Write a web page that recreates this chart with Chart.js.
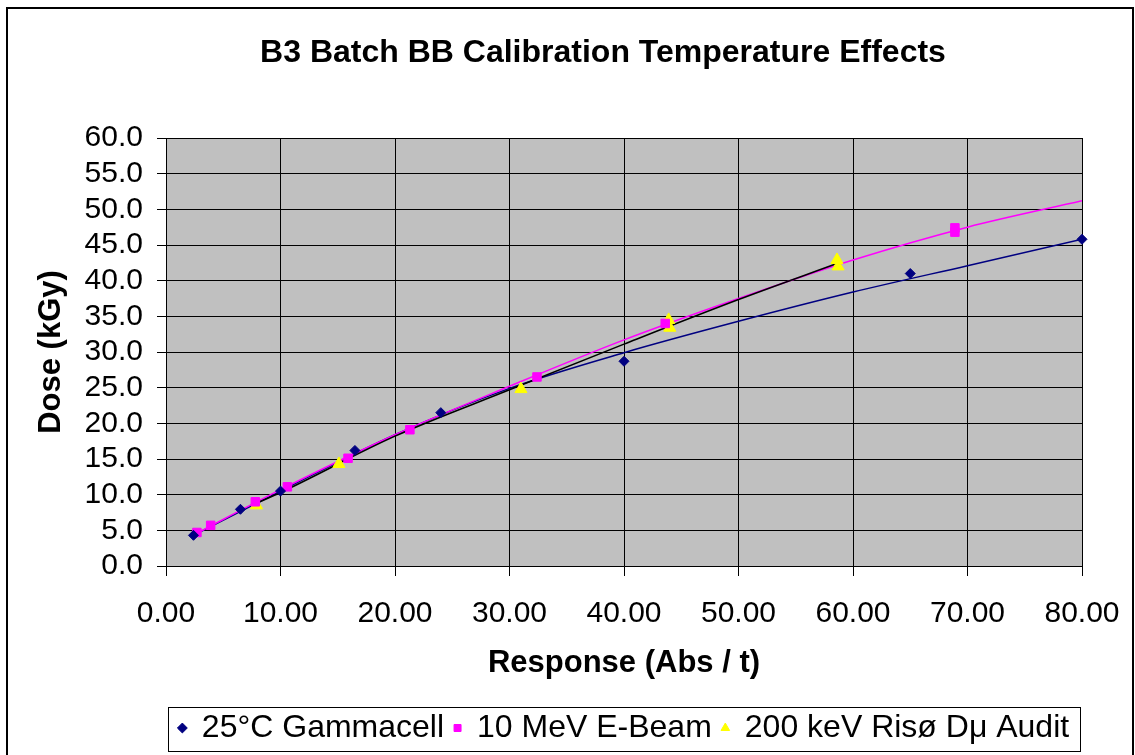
<!DOCTYPE html>
<html lang="en">
<head>
<meta charset="UTF-8">
<title>B3 Batch BB Calibration Temperature Effects</title>
<script src="https://cdn.jsdelivr.net/npm/chart.js"></script>
<style>
  html, body { margin: 0; padding: 0; background: #fff; }
</style>
</head>
<body>
<canvas id="doseChart" width="1135" height="755"></canvas>
<script>
// measured points (x = response Abs/t, y = dose kGy)
const gammaX = [2.4, 6.5, 10.0, 16.5, 24.0, 40.0, 65.0, 80.0];
const gammaY = [4.3, 7.95, 10.5, 16.2, 21.5, 28.7, 41.0, 45.8];

const beamX = [2.7, 3.9, 7.8, 10.6, 15.9, 21.3, 32.4, 43.6, 68.9, 68.9];
const beamY = [4.7, 5.7, 9.0, 11.1, 15.1, 19.1, 26.5, 34.0, 47.4, 46.8];

const risoX = [7.9, 15.1, 31.0, 43.9, 44.0, 58.6, 58.7];
const risoY = [8.5, 14.3, 24.8, 34.5, 33.4, 42.9, 42.0];

// trendlines
const gammaTrendX = [2.4, 10, 20, 30, 40, 50, 60, 70, 80];
const gammaTrendY = [4.3, 10.5, 18.4, 24.9, 29.9, 34.3, 38.4, 42.1, 45.8];

const beamTrendX = [2.6, 10, 20, 30, 40, 50, 60, 70, 80];
const beamTrendY = [4.5, 10.7, 18.4, 25.2, 31.7, 37.5, 42.9, 47.5, 51.2];

const risoTrendX = [7.9, 10, 20, 30, 40, 50, 58.6];
const risoTrendY = [8.8, 10.3, 18.2, 24.7, 31.1, 37.35, 42.4];

const labels = ['25\u00B0C Gammacell', '10 MeV E-Beam', '200 keV Ris\u00F8 D\u03BC Audit'];

const FONT = '"Liberation Sans", Arial, sans-serif';

function pts(xs, ys) {
    return xs.map((x, i) => ({ x: x, y: ys[i] }));
}

// white page, outer frame, grey plot area, title, legend box
const backdrop = {
    id: 'backdrop',
    beforeDraw(chart) {
        const ctx = chart.ctx;
        const a = chart.chartArea;
        ctx.save();
        ctx.fillStyle = '#fff';
        ctx.fillRect(0, 0, chart.width, chart.height);
        ctx.fillStyle = '#C0C0C0';
        ctx.fillRect(a.left, a.top, a.right - a.left, a.bottom - a.top);
        ctx.strokeStyle = '#000';
        ctx.lineWidth = 2;
        ctx.strokeRect(7, 8, 1126, 800);
        ctx.fillStyle = '#000';
        ctx.font = 'bold 32px ' + FONT;
        ctx.textAlign = 'center';
        ctx.textBaseline = 'middle';
        ctx.fillText('B3 Batch BB Calibration Temperature Effects', 603, 53);
        ctx.restore();
    },
    afterDraw(chart) {
        const lg = chart.legend;
        const ctx = chart.ctx;
        ctx.save();
        ctx.strokeStyle = '#000';
        ctx.lineWidth = 1;
        ctx.strokeRect(lg.left + 2.5, lg.top + 5.5, lg.width - 4, lg.height - 8);
        ctx.restore();
    }
};

const ctx = document.getElementById('doseChart').getContext('2d');
new Chart(ctx, {
    type: 'scatter',
    data: {
        datasets: [
            { label: labels[0], data: pts(gammaX, gammaY), pointStyle: 'rectRot', pointRadius: 5,
              backgroundColor: '#000080', borderColor: '#000080', clip: false },
            { label: labels[1], data: pts(beamX, beamY), pointStyle: 'rect', pointRadius: 6,
              backgroundColor: '#FF00FF', borderColor: '#FF00FF', clip: false },
            { label: labels[2], data: pts(risoX, risoY), pointStyle: 'triangle', pointRadius: 7,
              backgroundColor: '#FFFF00', borderColor: '#FFFF00', clip: false },
            { label: 'riso trend', data: pts(risoTrendX, risoTrendY), showLine: true, pointRadius: 0,
              borderColor: '#000', borderWidth: 1.5, cubicInterpolationMode: 'monotone' },
            { label: 'beam trend', data: pts(beamTrendX, beamTrendY), showLine: true, pointRadius: 0,
              borderColor: '#FF00FF', borderWidth: 1.5, cubicInterpolationMode: 'monotone' },
            { label: 'gamma trend', data: pts(gammaTrendX, gammaTrendY), showLine: true, pointRadius: 0,
              borderColor: '#000080', borderWidth: 1.5, cubicInterpolationMode: 'monotone' }
        ]
    },
    options: {
        responsive: false,
        animation: false,
        layout: { padding: { top: 138, right: 53, bottom: 1, left: 0 } },
        plugins: {
            title: { display: false },
            tooltip: { enabled: false },
            legend: {
                position: 'bottom',
                fullSize: false,
                labels: {
                    usePointStyle: true,
                    boxWidth: 7,
                    boxHeight: 7,
                    padding: 10,
                    color: '#000',
                    font: { size: 32, family: FONT },
                    filter: item => item.datasetIndex < 3
                }
            }
        },
        scales: {
            x: {
                type: 'linear',
                min: 0,
                max: 80,
                afterFit: s => {
                    s.height = 136;
                    // label overhang is covered by the layout padding
                    s.paddingLeft = 40;
                    s.paddingRight = 40;
                },
                ticks: { stepSize: 10, autoSkip: false, callback: v => v.toFixed(2), padding: 20, color: '#000',
                         font: { size: 30, family: FONT } },
                grid: { color: '#000', tickLength: 10 },
                border: { color: '#000' },
                title: { display: true, text: 'Response (Abs / t)', color: '#000',
                         font: { size: 31, weight: 'bold', family: FONT },
                         padding: { top: 0, bottom: 20 } }
            },
            y: {
                min: 0,
                max: 60,
                afterFit: s => { s.width = 166; },
                ticks: { stepSize: 5, autoSkip: false, callback: v => v.toFixed(1), padding: 14, color: '#000',
                         font: { size: 30, family: FONT } },
                grid: { color: '#000', tickLength: 9 },
                border: { color: '#000' },
                title: { display: true, text: 'Dose (kGy)', color: '#000',
                         font: { size: 31, weight: 'bold', family: FONT },
                         padding: { top: 33, bottom: 0 } }
            }
        }
    },
    plugins: [backdrop]
});
</script>
</body>
</html>
